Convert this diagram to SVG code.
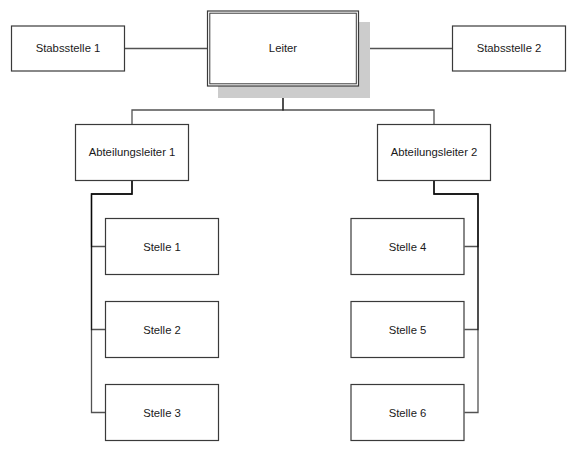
<svg xmlns="http://www.w3.org/2000/svg" width="577" height="452" viewBox="0 0 577 452">
<style>
.box{fill:#fff;stroke:#3a3a3a;stroke-width:1.2}
.lbl{font-family:"Liberation Sans",Arial,sans-serif;font-size:11.3px;fill:#1a1a1a;text-anchor:middle;dominant-baseline:central}
.con{fill:none;stroke:#000;stroke-opacity:0.68;stroke-width:1.3}
</style>
<rect width="577" height="452" fill="#fff"/>
<g id="connectors">
<path class="con" d="M125,48.5H207.5"/>
<path class="con" d="M358.5,48.5H452.5"/>
<path class="con" d="M283,86V110H132V124"/>
<path class="con" d="M283,86V110H434V124"/>
<path class="con" d="M132,180.5V194H91.5V246.5H105.5"/>
<path class="con" d="M132,180.5V194H91.5V329.5H105.5"/>
<path class="con" d="M132,180.5V194H91.5V412.5H105.5"/>
<path class="con" d="M434,180.5V194H478V246.5H464.5"/>
<path class="con" d="M434,180.5V194H478V329.5H464.5"/>
<path class="con" d="M434,180.5V194H478V412.5H464.5"/>
</g>
<g id="leiter">
<rect x="218" y="22" width="152" height="76" fill="#cccccc"/>
<rect class="box" x="207.5" y="11" width="151" height="75"/>
<rect x="209.8" y="13.2" width="146.5" height="70.6" fill="none" stroke="#3a3a3a" stroke-width="1"/>
<text class="lbl" x="283" y="48">Leiter</text>
</g>
<g id="stabsstelle1">
<rect class="box" x="11.5" y="26" width="113" height="45"/>
<text class="lbl" x="68" y="48">Stabsstelle 1</text>
</g>
<g id="stabsstelle2">
<rect class="box" x="452.5" y="26" width="113" height="45"/>
<text class="lbl" x="509" y="48">Stabsstelle 2</text>
</g>
<g id="abteilungsleiter1">
<rect class="box" x="75.5" y="124.5" width="113" height="56"/>
<text class="lbl" x="132" y="152">Abteilungsleiter 1</text>
</g>
<g id="abteilungsleiter2">
<rect class="box" x="377.5" y="124.5" width="113" height="56"/>
<text class="lbl" x="434" y="152">Abteilungsleiter 2</text>
</g>
<g id="stelle1">
<rect class="box" x="105.5" y="218.5" width="113" height="56"/>
<text class="lbl" x="162" y="246.5">Stelle 1</text>
</g>
<g id="stelle2">
<rect class="box" x="105.5" y="301.5" width="113" height="56"/>
<text class="lbl" x="162" y="329.5">Stelle 2</text>
</g>
<g id="stelle3">
<rect class="box" x="105.5" y="384.5" width="113" height="56"/>
<text class="lbl" x="162" y="412.5">Stelle 3</text>
</g>
<g id="stelle4">
<rect class="box" x="351" y="218.5" width="113" height="56"/>
<text class="lbl" x="407.5" y="246.5">Stelle 4</text>
</g>
<g id="stelle5">
<rect class="box" x="351" y="301.5" width="113" height="56"/>
<text class="lbl" x="407.5" y="329.5">Stelle 5</text>
</g>
<g id="stelle6">
<rect class="box" x="351" y="384.5" width="113" height="56"/>
<text class="lbl" x="407.5" y="412.5">Stelle 6</text>
</g>
</svg>
